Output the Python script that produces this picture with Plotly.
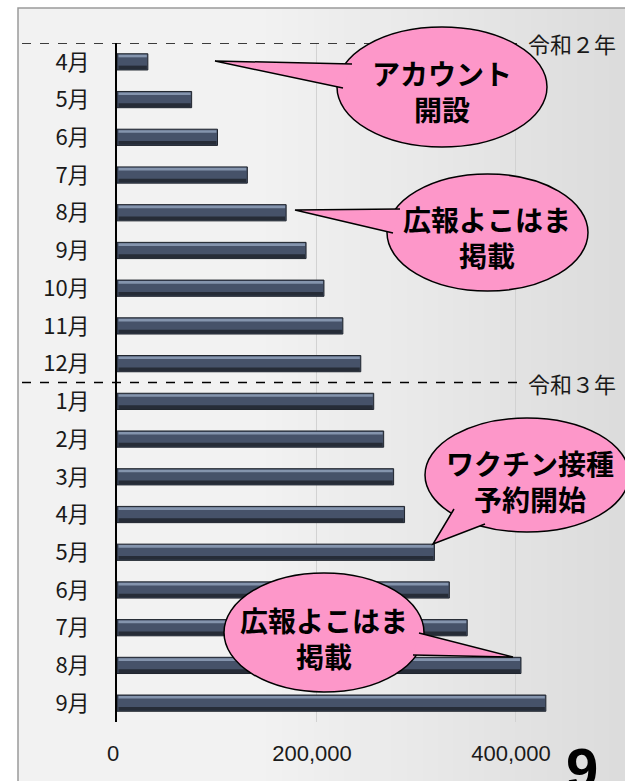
import plotly.graph_objects as go

# ---- data ----
months = ["4月", "5月", "6月", "7月", "8月", "9月", "10月", "11月", "12月",
          "1月", "2月", "3月", "4月", "5月", "6月", "7月", "8月", "9月"]
values = [31000, 75000, 101000, 131000, 170000, 190000, 208000, 227000, 245000,
          258000, 268000, 278000, 289000, 319000, 334000, 352000, 406000, 431000]
x_tickvals = [0, 200000, 400000]
x_ticktext = ["0", "200,000", "400,000"]
year_labels = ["令和２年", "令和３年"]
callout_texts = ["アカウント<br>開設", "広報よこはま<br>掲載",
                 "ワクチン接種<br>予約開始", "広報よこはま<br>掲載"]

W, H = 625, 781
L, R, T, B = 117, 0, 43, 59
PX_PER_UNIT = 0.995 / 1000.0
XMAX = (W - L - R) / PX_PER_UNIT


def P(px, py):
    """pixel -> paper coordinates (for decoration shapes)"""
    return (px - L) / (W - L - R), (H - B - py) / (H - T - B)


idx = list(range(len(months)))
fig = go.Figure()

# main bar body
fig.add_trace(go.Bar(x=values, y=idx, orientation="h", width=0.43,
                     marker=dict(color="#465269", line=dict(color="#1f242d", width=1)),
                     hoverinfo="skip", showlegend=False))
# top highlight stripe
fig.add_trace(go.Bar(x=[v - 2500 for v in values], base=[1500] * len(values), y=idx,
                     orientation="h", width=0.07, offset=-0.19,
                     marker=dict(color="#8494ad", line=dict(width=0)),
                     hoverinfo="skip", showlegend=False))
# bottom dark stripe
fig.add_trace(go.Bar(x=[v - 2500 for v in values], base=[1500] * len(values), y=idx,
                     orientation="h", width=0.1, offset=0.1,
                     marker=dict(color="#262c37", line=dict(width=0)),
                     hoverinfo="skip", showlegend=False))

shapes = []
annotations = []

# background gradient strips inside the frame
x_start, x_end = 18, 640
n = 40
for i in range(n):
    a = x_start + (x_end - x_start) * i / n
    b = x_start + (x_end - x_start) * (i + 1) / n + 1
    mid = (a + b) / 2
    if mid < 260:
        g = 242
    else:
        g = int(round(242 - (mid - 260) / (625 - 260) * 22))
    x0, y0 = P(a, 790)
    x1, y1 = P(b, 8)
    shapes.append(dict(type="rect", xref="paper", yref="paper", x0=x0, x1=x1, y0=y0, y1=y1,
                       fillcolor=f"rgb({g},{g},{g})", line=dict(width=0), layer="below"))
# frame border
fx0, fy0 = P(18, 800)
fx1, fy1 = P(700, 8)
shapes.append(dict(type="rect", xref="paper", yref="paper", x0=fx0, x1=fx1, y0=fy0, y1=fy1,
                   fillcolor="rgba(0,0,0,0)", line=dict(color="#9a9a9a", width=1.5), layer="below"))

# dashed year separators (between categories)
dash_x0, _ = P(22, 0)
dash_x1, _ = P(526, 0)
for ypos, lab in zip([-0.5, 8.5], year_labels):
    shapes.append(dict(type="line", xref="paper", yref="y", x0=dash_x0, x1=dash_x1,
                       y0=ypos, y1=ypos, line=dict(color="black", width=1.6, dash="dash"),
                       layer="above"))
    annotations.append(dict(x=dash_x1, xref="paper", y=ypos, yref="y", text=lab,
                            showarrow=False, xanchor="left", yanchor="middle", xshift=0,
                            font=dict(family="Noto Sans CJK JP", size=22, color="#1a1a1a")))

# callouts: ellipse (pixel box), pointer tip, pointer base points, text centre
callouts = [
    dict(box=(337, 27, 547, 147), tip=(215, 61), b1=(352, 64), b2=(343, 88), tc=(442, 91)),
    dict(box=(387, 174, 588, 291), tip=(295, 210), b1=(400, 209), b2=(393, 233), tc=(487, 237)),
    dict(box=(425, 418, 629, 532), tip=(433, 544), b1=(454, 509), b2=(485, 524), tc=(530, 481)),
    dict(box=(224, 573, 424, 692), tip=(513, 657), b1=(419, 633), b2=(413, 655), tc=(324, 638)),
]
pink = "#fd97c9"
for c, txt in zip(callouts, callout_texts):
    ex0, ey0 = P(c["box"][0], c["box"][3])
    ex1, ey1 = P(c["box"][2], c["box"][1])
    shapes.append(dict(type="circle", xref="paper", yref="paper", x0=ex0, x1=ex1, y0=ey0, y1=ey1,
                       fillcolor=pink, line=dict(color="black", width=1.5), layer="above"))
    t = P(*c["tip"]); p1 = P(*c["b1"]); p2 = P(*c["b2"])
    shapes.append(dict(type="path", xref="paper", yref="paper",
                       path=f"M{t[0]},{t[1]} L{p1[0]},{p1[1]} L{p2[0]},{p2[1]} Z",
                       fillcolor=pink, line=dict(width=0), layer="above"))
    shapes.append(dict(type="path", xref="paper", yref="paper",
                       path=f"M{p1[0]},{p1[1]} L{t[0]},{t[1]} L{p2[0]},{p2[1]}",
                       line=dict(color="black", width=1.5), layer="above"))
    tx, ty = P(*c["tc"])
    annotations.append(dict(x=tx, y=ty, xref="paper", yref="paper", text=f"<b>{txt}</b>",
                            showarrow=False, xanchor="center", yanchor="middle",
                            font=dict(family="Noto Sans CJK JP", size=28, color="black")))

# page number
nx, ny = P(582, 734)
annotations.append(dict(x=nx, y=ny, xref="paper", yref="paper", text="<b>9</b>",
                        showarrow=False, xanchor="center", yanchor="top",
                        font=dict(family="Liberation Sans, sans-serif",
                                  size=58, color="black")))

fig.update_layout(
    width=W, height=H,
    margin=dict(l=L, r=R, t=T, b=B, pad=0),
    paper_bgcolor="white", plot_bgcolor="rgba(0,0,0,0)",
    barmode="overlay", bargap=0.5,
    shapes=shapes, annotations=annotations,
    xaxis=dict(range=[0, XMAX], tickvals=x_tickvals, ticktext=x_ticktext,
               showgrid=True, gridcolor="#d2d2d2", gridwidth=1, zeroline=False,
               showline=False, ticks="", ticklabelstandoff=16, ticklabelshift=-4,
               tickfont=dict(family="Liberation Sans, sans-serif",
                             size=22, color="#1a1a1a")),
    yaxis=dict(range=[17.5, -0.5], tickvals=idx, ticktext=months, showgrid=False,
               zeroline=False, showline=True, linecolor="black", linewidth=2,
               ticks="", ticklabelstandoff=21,
               tickfont=dict(family="Noto Sans CJK JP", size=22, color="#1a1a1a")),
)

fig.write_html("out.html", config={"displayModeBar": False},
               post_script="document.body.style.margin='0';document.body.style.overflow='hidden';")
